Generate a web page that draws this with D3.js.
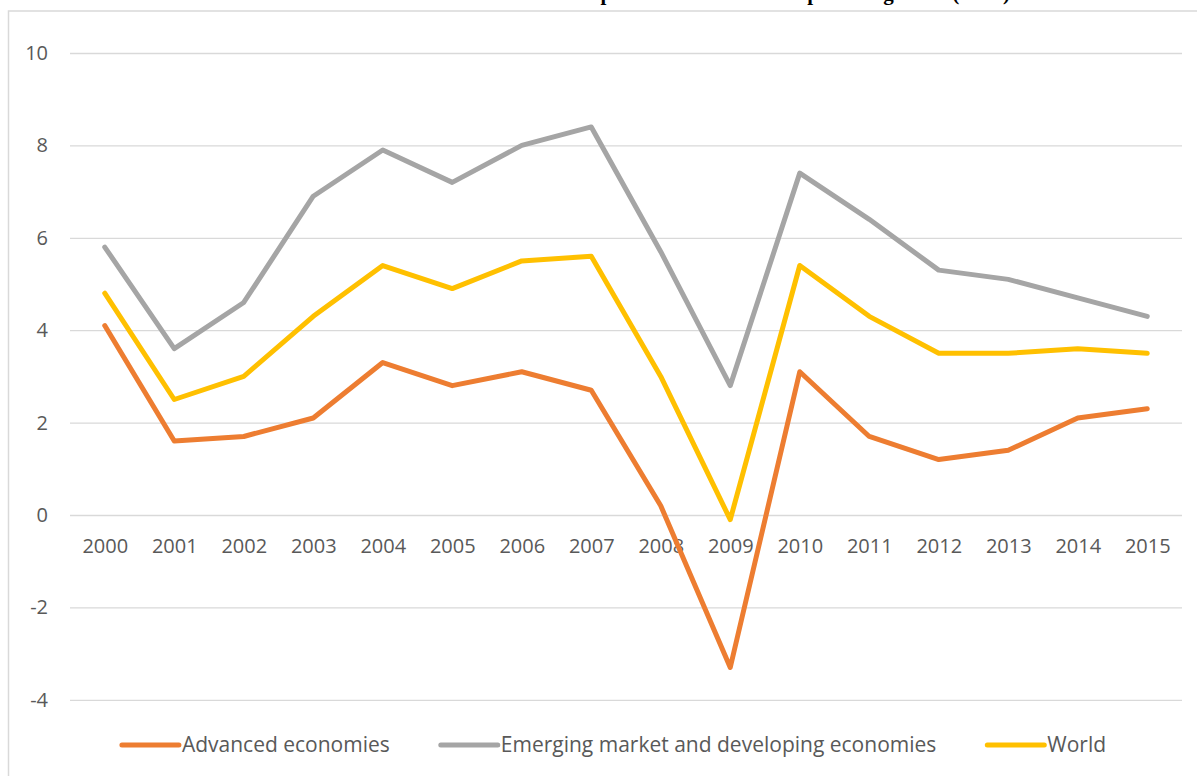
<!DOCTYPE html>
<html>
<head>
<meta charset="utf-8">
<script src="https://cdn.jsdelivr.net/npm/d3@7"></script>
<style>
  html, body { margin: 0; padding: 0; background: #ffffff; }
  svg { display: block; }
</style>
</head>
<body>
<svg id="chart" width="1197" height="776"></svg>
<script>
// Annual real GDP growth, percent
const years = ["2000","2001","2002","2003","2004","2005","2006","2007","2008","2009","2010","2011","2012","2013","2014","2015"];
const advanced = [4.1, 1.6, 1.7, 2.1, 3.3, 2.8, 3.1, 2.7, 0.2, -3.3, 3.1, 1.7, 1.2, 1.4, 2.1, 2.3];
const emerging = [5.8, 3.6, 4.6, 6.9, 7.9, 7.2, 8.0, 8.4, 5.7, 2.8, 7.4, 6.4, 5.3, 5.1, 4.7, 4.3];
const world    = [4.8, 2.5, 3.0, 4.3, 5.4, 4.9, 5.5, 5.6, 3.0, -0.1, 5.4, 4.3, 3.5, 3.5, 3.6, 3.5];
const yTicks = [-4, -2, 0, 2, 4, 6, 8, 10];
const seriesNames = ["Advanced economies", "Emerging market and developing economies", "World"];
const seriesColors = ["#ED7D31", "#A5A5A5", "#FFC000"];
const titleText = "Chart 1: Real GDP Output in the World: Real product growth (in %)";

const series = [
  { name: seriesNames[0], values: advanced, color: seriesColors[0] },
  { name: seriesNames[1], values: emerging, color: seriesColors[1] },
  { name: seriesNames[2], values: world, color: seriesColors[2] }
];

const svg = d3.select("#chart");
const textColor = "#595959";
const gridColor = "#d9d9d9";
const font = "'Open Sans', 'Liberation Sans', sans-serif";

// plot area
const plot = { left: 70, right: 1182, top: 53, bottom: 699.8 };

const x = d3.scalePoint().domain(years).range([plot.left, plot.right]).padding(0.5);
const y = d3.scaleLinear().domain([-4, 10]).range([plot.bottom, plot.top]);

// title (sits above the chart frame, running off the top edge)
svg.append("text")
  .attr("x", 1010)
  .attr("y", 0)
  .attr("text-anchor", "end")
  .attr("font-family", "'Liberation Serif', 'Times New Roman', serif")
  .attr("font-weight", "bold")
  .attr("font-size", 21)
  .attr("fill", "#000")
  .text(titleText);

// chart frame
svg.append("path")
  .attr("d", "M8.5,776 V11 H1197")
  .attr("fill", "none")
  .attr("stroke", gridColor)
  .attr("stroke-width", 1.5);

// horizontal gridlines + value labels
const yAxis = d3.axisLeft(y)
  .tickValues(yTicks)
  .tickSize(-(plot.right - plot.left))
  .tickPadding(22)
  .tickFormat(d => String(d));

const gy = svg.append("g")
  .attr("transform", `translate(${plot.left},0)`)
  .call(yAxis);
gy.select(".domain").remove();
gy.selectAll(".tick line").attr("stroke", gridColor).attr("stroke-width", 1.3);
gy.selectAll(".tick text")
  .attr("fill", textColor)
  .attr("font-family", font)
  .attr("font-size", 20);

// category labels next to the zero line
const xAxis = d3.axisBottom(x).tickSize(0).tickPadding(22);
const gx = svg.append("g")
  .attr("transform", `translate(0,${y(0)})`)
  .call(xAxis);
gx.select(".domain").remove();
gx.selectAll(".tick text")
  .attr("fill", textColor)
  .attr("font-family", font)
  .attr("font-size", 20)
  .attr("dy", "0.32em")
  .attr("y", 32);

// series lines
const line = d3.line()
  .x((d, i) => x(years[i]))
  .y(d => y(d));

svg.append("g")
  .selectAll("path")
  .data(series)
  .join("path")
  .attr("d", d => line(d.values))
  .attr("fill", "none")
  .attr("stroke", d => d.color)
  .attr("stroke-width", 5)
  .attr("stroke-linejoin", "round")
  .attr("stroke-linecap", "round");

// legend
const legend = svg.append("g");
const legendY = 745;
const swatch = 57, swGap = 3, itemGap = 51;
let cx = 0;
series.forEach(s => {
  const g = legend.append("g").attr("transform", `translate(${cx},0)`);
  g.append("line")
    .attr("x1", 0).attr("x2", swatch)
    .attr("y1", legendY).attr("y2", legendY)
    .attr("stroke", s.color)
    .attr("stroke-width", 5)
    .attr("stroke-linecap", "round");
  const t = g.append("text")
    .attr("x", swatch + swGap)
    .attr("y", legendY)
    .attr("dy", "0.35em")
    .attr("fill", textColor)
    .attr("font-family", font)
    .attr("font-size", 21)
    .text(s.name);
  cx += swatch + swGap + t.node().getComputedTextLength() + itemGap;
});
const legendWidth = cx - itemGap;
legend.attr("transform", `translate(${614 - legendWidth / 2},0)`);
</script>
</body>
</html>
